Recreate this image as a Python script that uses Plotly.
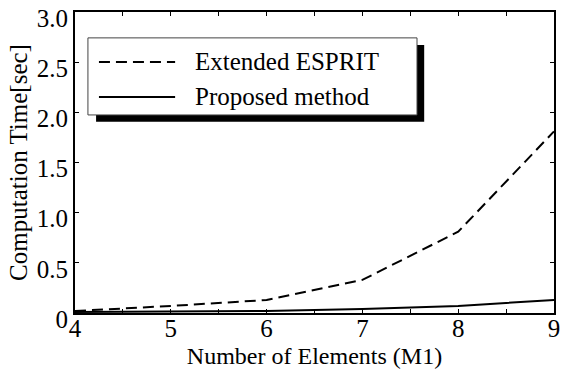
import plotly.graph_objects as go

# Number of array elements (M1) and measured computation times [sec]
elements = [4, 5, 6, 7, 8, 9]
esprit_time = [0.02, 0.07, 0.13, 0.33, 0.81, 1.81]
proposed_time = [0.01, 0.015, 0.02, 0.04, 0.07, 0.13]
series_names = ["Extended ESPRIT", "Proposed method"]

x_tickvals = [4, 4.5, 5, 5.5, 6, 6.5, 7, 7.5, 8, 8.5, 9]
x_ticktext = ["4", "", "5", "", "6", "", "7", "", "8", "", "9"]
y_tickvals = [0, 0.5, 1.0, 1.5, 2.0, 2.5, 3.0]
y_ticktext = ["0", "0.5", "1.0", "1.5", "2.0", "2.5", "3.0"]

FONT = "Liberation Serif, Times New Roman, serif"

fig = go.Figure()
fig.add_trace(go.Scatter(x=elements, y=esprit_time, mode="lines", name=series_names[0],
                         line=dict(color="black", width=2, dash="11px,6px"), showlegend=False))
fig.add_trace(go.Scatter(x=elements, y=proposed_time, mode="lines", name=series_names[1],
                         line=dict(color="black", width=2), showlegend=False))

# Boxed legend with a drop shadow, placed in paper coordinates
shapes = [
    dict(type="rect", xref="paper", yref="paper", x0=0.044, x1=0.729, y0=0.635, y1=0.890,
         fillcolor="black", line=dict(width=0), layer="above"),
    dict(type="rect", xref="paper", yref="paper", x0=0.027, x1=0.714, y0=0.658, y1=0.914,
         fillcolor="white", line=dict(color="#444", width=1), layer="above"),
    dict(type="line", xref="paper", yref="paper", x0=0.050, x1=0.209, y0=0.834, y1=0.834,
         line=dict(color="black", width=2, dash="11px,6px"), layer="above"),
    dict(type="line", xref="paper", yref="paper", x0=0.050, x1=0.209, y0=0.718, y1=0.718,
         line=dict(color="black", width=2), layer="above"),
]
annotations = [
    dict(xref="paper", yref="paper", x=0.246, y=0.834, text=series_names[0], showarrow=False,
         xanchor="left", yanchor="middle", font=dict(family=FONT, size=25, color="black")),
    dict(xref="paper", yref="paper", x=0.246, y=0.718, text=series_names[1], showarrow=False,
         xanchor="left", yanchor="middle", font=dict(family=FONT, size=25, color="black")),
]

fig.update_layout(
    width=561, height=370,
    margin=dict(l=75, r=7, t=12, b=57),
    paper_bgcolor="white", plot_bgcolor="white",
    font=dict(family=FONT, size=25, color="black"),
    shapes=shapes, annotations=annotations,
)
fig.update_xaxes(
    range=[4, 9], tickvals=x_tickvals, ticktext=x_ticktext, automargin=False,
    ticks="inside", ticklen=4, tickwidth=1, tickcolor="black",
    showline=True, linecolor="black", linewidth=2, mirror="ticks",
    showgrid=False, zeroline=False, ticklabelstandoff=-8,
    tickfont=dict(family=FONT, size=25),
    title=dict(text="Number of Elements (M1)", font=dict(family=FONT, size=24), standoff=6),
)
fig.update_yaxes(
    range=[0, 3], tickvals=y_tickvals, ticktext=y_ticktext, automargin=False,
    ticks="inside", ticklen=4, tickwidth=1, tickcolor="black",
    showline=True, linecolor="black", linewidth=2, mirror="ticks",
    showgrid=False, zeroline=False, ticklabelshift=6,
    tickfont=dict(family=FONT, size=25),
    title=dict(text="Computation Time[sec]", font=dict(family=FONT, size=25), standoff=2),
)

fig.write_html("out.html")
